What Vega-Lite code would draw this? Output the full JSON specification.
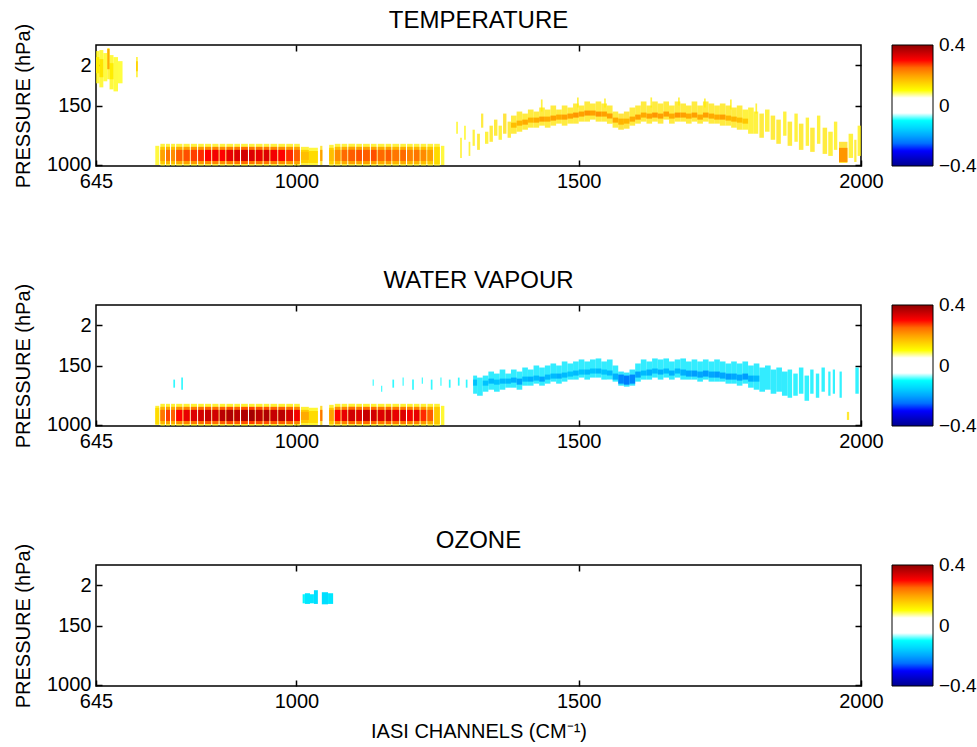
{
"$schema":"https://vega.github.io/schema/vega-lite/v6.json",
"padding":{"left":12,"top":8,"right":0,"bottom":0},
"background":"white",
"spacing":76,
"config":{
 "font":"Liberation Sans",
 "view":{"stroke":"black","strokeWidth":1.5},
 "axis":{"grid":false,"domain":false,"tickColor":"black","tickWidth":1.5,"labelFontSize":20,"labelColor":"black","titleFontSize":20,"titleFontWeight":"normal","titleColor":"black","labelFont":"Liberation Sans","titleFont":"Liberation Sans"},
 "title":{"fontSize":24,"fontWeight":"normal","color":"black","offset":-10,"anchor":"middle","font":"Liberation Sans"},
 "legend":{"labelFont":"Liberation Sans"}
},
"datasets":{
"T":[
{"c":645,"c2":651,"l":3,"l2":19,"v":0.11,"m":6,"m2":14,"mv":0.12},
{"c":651,"c2":658,"l":2.5,"l2":21,"v":0.11,"m":7,"m2":16,"mv":0.13},
{"c":658,"c2":665,"l":4,"l2":18,"v":0.105},
{"c":665,"c2":669,"l":1.5,"l2":17,"v":0.12,"k":2,"k2":12,"kv":0.19},
{"c":669,"c2":676,"l":5,"l2":22,"v":0.11,"m":9,"m2":17,"mv":0.12},
{"c":676,"c2":684,"l":6,"l2":23,"v":0.105},
{"c":684,"c2":692,"l":8,"l2":19,"v":0.102},
{"c":716,"c2":719,"l":6,"l2":16,"v":0.12,"k":8,"k2":13,"kv":0.15},
{"c":750,"c2":757,"l":50,"l2":59.5,"v":0.11},
{"c":759,"c2":767,"l":49,"l2":59.8,"v":0.12,"m":50.5,"m2":59,"mv":0.16,"k":52,"k2":57.5,"kv":0.2},
{"c":769,"c2":776,"l":49,"l2":59.8,"v":0.12,"m":50.5,"m2":59,"mv":0.18,"k":52,"k2":57.5,"kv":0.24},
{"c":778,"c2":785,"l":49,"l2":59.8,"v":0.12,"m":50.5,"m2":59,"mv":0.17,"k":52,"k2":57.5,"kv":0.22},
{"c":787,"c2":798,"l":49,"l2":59.8,"v":0.12,"m":50.5,"m2":59,"mv":0.19,"k":52,"k2":57.5,"kv":0.26},
{"c":800,"c2":811,"l":49,"l2":59.8,"v":0.12,"m":50.5,"m2":59,"mv":0.2,"k":52,"k2":57.5,"kv":0.27},
{"c":813,"c2":824,"l":49,"l2":59.8,"v":0.12,"m":50.5,"m2":59,"mv":0.21,"k":52,"k2":57.5,"kv":0.28},
{"c":826,"c2":836,"l":49,"l2":59.8,"v":0.12,"m":50.5,"m2":59,"mv":0.21,"k":52,"k2":57.5,"kv":0.29},
{"c":838,"c2":849,"l":49,"l2":59.8,"v":0.12,"m":50.5,"m2":59,"mv":0.22,"k":52,"k2":57.5,"kv":0.3},
{"c":851,"c2":862,"l":49,"l2":59.8,"v":0.12,"m":50.5,"m2":59,"mv":0.23,"k":52,"k2":57.5,"kv":0.31},
{"c":864,"c2":874,"l":49,"l2":59.8,"v":0.12,"m":50.5,"m2":59,"mv":0.22,"k":52,"k2":57.5,"kv":0.3},
{"c":876,"c2":888,"l":49,"l2":59.8,"v":0.12,"m":50.5,"m2":59,"mv":0.23,"k":52,"k2":57.5,"kv":0.32},
{"c":890,"c2":900,"l":49,"l2":59.8,"v":0.12,"m":50.5,"m2":59,"mv":0.24,"k":52,"k2":57.5,"kv":0.33},
{"c":902,"c2":914,"l":49,"l2":59.8,"v":0.12,"m":50.5,"m2":59,"mv":0.25,"k":52,"k2":57.5,"kv":0.34},
{"c":916,"c2":926,"l":49,"l2":59.8,"v":0.12,"m":50.5,"m2":59,"mv":0.24,"k":52,"k2":57.5,"kv":0.33},
{"c":928,"c2":940,"l":49,"l2":59.8,"v":0.12,"m":50.5,"m2":59,"mv":0.24,"k":52,"k2":57.5,"kv":0.32},
{"c":942,"c2":952,"l":49,"l2":59.8,"v":0.12,"m":50.5,"m2":59,"mv":0.24,"k":52,"k2":57.5,"kv":0.33},
{"c":954,"c2":966,"l":49,"l2":59.8,"v":0.12,"m":50.5,"m2":59,"mv":0.23,"k":52,"k2":57.5,"kv":0.31},
{"c":968,"c2":980,"l":49,"l2":59.8,"v":0.12,"m":50.5,"m2":59,"mv":0.22,"k":52,"k2":57.5,"kv":0.3},
{"c":982,"c2":994,"l":49,"l2":59.8,"v":0.12,"m":50.5,"m2":59,"mv":0.21,"k":52,"k2":57.5,"kv":0.29},
{"c":996,"c2":1006,"l":49,"l2":59.8,"v":0.12,"m":50.5,"m2":59,"mv":0.2,"k":52,"k2":57.5,"kv":0.26},
{"c":1008,"c2":1022,"l":50.5,"l2":59.5,"v":0.12,"m":52,"m2":58.5,"mv":0.15,"k":53,"k2":57,"kv":0.17},
{"c":1022,"c2":1038,"l":51,"l2":59.5,"v":0.11,"m":52.5,"m2":58.5,"mv":0.14},
{"c":1042,"c2":1046,"l":50,"l2":59.5,"v":0.14,"k":52,"k2":57.5,"kv":0.2},
{"c":1058,"c2":1066,"l":49.5,"l2":59.8,"v":0.12,"m":51,"m2":59,"mv":0.15,"k":52,"k2":57.5,"kv":0.17},
{"c":1068,"c2":1078,"l":49,"l2":59.8,"v":0.12,"m":50.5,"m2":59,"mv":0.17,"k":52,"k2":57.5,"kv":0.22},
{"c":1080,"c2":1090,"l":49,"l2":59.8,"v":0.12,"m":50.5,"m2":59,"mv":0.19,"k":52,"k2":57.5,"kv":0.25},
{"c":1092,"c2":1104,"l":49,"l2":59.8,"v":0.12,"m":50.5,"m2":59,"mv":0.2,"k":52,"k2":57.5,"kv":0.26},
{"c":1106,"c2":1116,"l":49,"l2":59.8,"v":0.12,"m":50.5,"m2":59,"mv":0.2,"k":52,"k2":57.5,"kv":0.27},
{"c":1118,"c2":1130,"l":49,"l2":59.8,"v":0.12,"m":50.5,"m2":59,"mv":0.2,"k":52,"k2":57.5,"kv":0.26},
{"c":1132,"c2":1142,"l":49,"l2":59.8,"v":0.12,"m":50.5,"m2":59,"mv":0.2,"k":52,"k2":57.5,"kv":0.27},
{"c":1144,"c2":1156,"l":49,"l2":59.8,"v":0.12,"m":50.5,"m2":59,"mv":0.19,"k":52,"k2":57.5,"kv":0.25},
{"c":1158,"c2":1168,"l":49,"l2":59.8,"v":0.12,"m":50.5,"m2":59,"mv":0.2,"k":52,"k2":57.5,"kv":0.26},
{"c":1170,"c2":1182,"l":49,"l2":59.8,"v":0.12,"m":50.5,"m2":59,"mv":0.18,"k":52,"k2":57.5,"kv":0.24},
{"c":1184,"c2":1194,"l":49,"l2":59.8,"v":0.12,"m":50.5,"m2":59,"mv":0.19,"k":52,"k2":57.5,"kv":0.25},
{"c":1196,"c2":1206,"l":49,"l2":59.8,"v":0.12,"m":50.5,"m2":59,"mv":0.18,"k":52,"k2":57.5,"kv":0.23},
{"c":1208,"c2":1218,"l":49,"l2":59.8,"v":0.12,"m":50.5,"m2":59,"mv":0.18,"k":52,"k2":57.5,"kv":0.24},
{"c":1220,"c2":1230,"l":49,"l2":59.8,"v":0.12,"m":50.5,"m2":59,"mv":0.17,"k":52,"k2":57.5,"kv":0.22},
{"c":1232,"c2":1242,"l":49,"l2":59.8,"v":0.12,"m":50.5,"m2":59,"mv":0.16,"k":52,"k2":57.5,"kv":0.2},
{"c":1244,"c2":1254,"l":49,"l2":59.8,"v":0.12,"m":50.5,"m2":59,"mv":0.14},
{"c":1256,"c2":1262,"l":50,"l2":59.5,"v":0.11},
{"c":1283,"c2":1286,"l":38,"l2":44,"v":0.11},
{"c":1290,"c2":1293,"l":46,"l2":56,"v":0.12},
{"c":1297,"c2":1300,"l":40,"l2":47,"v":0.11},
{"c":1305,"c2":1308,"l":48,"l2":55,"v":0.12},
{"c":1312,"c2":1316,"l":42,"l2":50,"v":0.12},
{"c":1320,"c2":1325,"l":44,"l2":52,"v":0.13},
{"c":1327,"c2":1331,"l":34,"l2":41,"v":0.13},
{"c":1334,"c2":1340,"l":43,"l2":49,"v":0.12},
{"c":1342,"c2":1348,"l":40,"l2":48,"v":0.13},
{"c":1350,"c2":1356,"l":37,"l2":45,"v":0.13},
{"c":1358,"c2":1364,"l":40,"l2":47,"v":0.12},
{"c":1366,"c2":1372,"l":34,"l2":44,"v":0.14},
{"c":1374,"c2":1380,"l":38,"l2":46,"v":0.13},
{"c":1380,"c2":1390,"l":35,"l2":44,"v":0.13,"k":38.5,"k2":41,"kv":0.17},
{"c":1390,"c2":1400,"l":33,"l2":43,"v":0.13,"k":37.5,"k2":40,"kv":0.18},
{"c":1400,"c2":1410,"l":34,"l2":42,"v":0.13,"k":37,"k2":39.5,"kv":0.19},
{"c":1410,"c2":1420,"l":32,"l2":41,"v":0.13,"k":36,"k2":38.5,"kv":0.18},
{"c":1420,"c2":1430,"l":33,"l2":41,"v":0.13,"k":36,"k2":38.5,"kv":0.19},
{"c":1430,"c2":1440,"l":31,"l2":40,"v":0.13,"k":35.5,"k2":38,"kv":0.2},
{"c":1440,"c2":1450,"l":32,"l2":41,"v":0.13,"k":35.5,"k2":38,"kv":0.19},
{"c":1450,"c2":1460,"l":30,"l2":40,"v":0.13,"k":35,"k2":37.5,"kv":0.2},
{"c":1460,"c2":1470,"l":32,"l2":39,"v":0.13,"k":34.5,"k2":37,"kv":0.19},
{"c":1470,"c2":1480,"l":30,"l2":40,"v":0.13,"k":34.5,"k2":37,"kv":0.2},
{"c":1480,"c2":1490,"l":31,"l2":39,"v":0.13,"k":34,"k2":36.5,"kv":0.2},
{"c":1490,"c2":1500,"l":29,"l2":39,"v":0.13,"k":33.5,"k2":36,"kv":0.21},
{"c":1500,"c2":1510,"l":30,"l2":38,"v":0.13,"k":33,"k2":35.5,"kv":0.2},
{"c":1510,"c2":1520,"l":28,"l2":38,"v":0.13,"k":32.5,"k2":35,"kv":0.21},
{"c":1520,"c2":1530,"l":29,"l2":37,"v":0.13,"k":32.5,"k2":35,"kv":0.2},
{"c":1530,"c2":1540,"l":28,"l2":38,"v":0.13,"k":33,"k2":35.5,"kv":0.21},
{"c":1540,"c2":1550,"l":29,"l2":38,"v":0.13,"k":33,"k2":35.5,"kv":0.2},
{"c":1550,"c2":1560,"l":30,"l2":39,"v":0.13,"k":34,"k2":36.5,"kv":0.2},
{"c":1560,"c2":1570,"l":33,"l2":41,"v":0.13,"k":36,"k2":38.5,"kv":0.19},
{"c":1570,"c2":1580,"l":34,"l2":42,"v":0.14,"k":36.5,"k2":39.5,"kv":0.18},
{"c":1580,"c2":1590,"l":33,"l2":41.5,"v":0.14,"k":36.5,"k2":39,"kv":0.18},
{"c":1590,"c2":1600,"l":31,"l2":40,"v":0.13,"k":35.5,"k2":38,"kv":0.19},
{"c":1600,"c2":1610,"l":30,"l2":39,"v":0.13,"k":34.5,"k2":37,"kv":0.2},
{"c":1610,"c2":1620,"l":28,"l2":38,"v":0.13,"k":33.5,"k2":36,"kv":0.19},
{"c":1620,"c2":1630,"l":30,"l2":39,"v":0.13,"k":34,"k2":36.5,"kv":0.2},
{"c":1630,"c2":1640,"l":28,"l2":38,"v":0.13,"k":33.5,"k2":36,"kv":0.21},
{"c":1640,"c2":1650,"l":29,"l2":39,"v":0.13,"k":34,"k2":36.5,"kv":0.2},
{"c":1650,"c2":1660,"l":28,"l2":37,"v":0.13,"k":33,"k2":35.5,"kv":0.2},
{"c":1660,"c2":1670,"l":30,"l2":39,"v":0.13,"k":34,"k2":36.5,"kv":0.19},
{"c":1670,"c2":1680,"l":28,"l2":38,"v":0.13,"k":33.5,"k2":36,"kv":0.21},
{"c":1680,"c2":1690,"l":29,"l2":38,"v":0.13,"k":33.5,"k2":36,"kv":0.2},
{"c":1690,"c2":1700,"l":30,"l2":39,"v":0.13,"k":34,"k2":36.5,"kv":0.19},
{"c":1700,"c2":1710,"l":28,"l2":38,"v":0.13,"k":33.5,"k2":36,"kv":0.2},
{"c":1710,"c2":1720,"l":30,"l2":39,"v":0.13,"k":34.5,"k2":37,"kv":0.19},
{"c":1720,"c2":1730,"l":28,"l2":38,"v":0.13,"k":33.5,"k2":36,"kv":0.2},
{"c":1730,"c2":1740,"l":29,"l2":39,"v":0.13,"k":34,"k2":36.5,"kv":0.19},
{"c":1740,"c2":1750,"l":30,"l2":39,"v":0.13,"k":34.5,"k2":37,"kv":0.19},
{"c":1750,"c2":1760,"l":29,"l2":40,"v":0.13,"k":34.5,"k2":37,"kv":0.2},
{"c":1760,"c2":1770,"l":30,"l2":40,"v":0.13,"k":35,"k2":37.5,"kv":0.18},
{"c":1770,"c2":1780,"l":31,"l2":41,"v":0.13,"k":35.5,"k2":38,"kv":0.18},
{"c":1780,"c2":1790,"l":30,"l2":42,"v":0.13,"k":36,"k2":38.5,"kv":0.17},
{"c":1790,"c2":1800,"l":32,"l2":42,"v":0.12,"k":36.5,"k2":39,"kv":0.16},
{"c":1800,"c2":1810,"l":31,"l2":44,"v":0.12},
{"c":1810,"c2":1818,"l":33,"l2":44,"v":0.12},
{"c":1820,"c2":1828,"l":34,"l2":46,"v":0.13},
{"c":1830,"c2":1838,"l":32,"l2":43,"v":0.12},
{"c":1840,"c2":1848,"l":35,"l2":47,"v":0.13},
{"c":1850,"c2":1858,"l":37,"l2":49,"v":0.13},
{"c":1862,"c2":1868,"l":33,"l2":45,"v":0.12},
{"c":1870,"c2":1878,"l":38,"l2":50,"v":0.13},
{"c":1882,"c2":1888,"l":34,"l2":48,"v":0.12},
{"c":1890,"c2":1898,"l":39,"l2":52,"v":0.13},
{"c":1902,"c2":1908,"l":36,"l2":50,"v":0.12},
{"c":1910,"c2":1918,"l":41,"l2":53,"v":0.13},
{"c":1922,"c2":1928,"l":35,"l2":49,"v":0.12},
{"c":1932,"c2":1940,"l":41,"l2":54,"v":0.13},
{"c":1942,"c2":1950,"l":43,"l2":55,"v":0.12},
{"c":1952,"c2":1958,"l":38,"l2":52,"v":0.12},
{"c":1961,"c2":1976,"l":48,"l2":58.5,"v":0.14,"k":51,"k2":58,"kv":0.21},
{"c":1978,"c2":1986,"l":44,"l2":56,"v":0.12},
{"c":1988,"c2":1992,"l":47,"l2":58,"v":0.13},
{"c":1994,"c2":2000,"l":40,"l2":55,"v":0.12},
{"c":1433,"c2":1436,"l":27,"l2":33,"v":0.12},
{"c":1497,"c2":1500,"l":26,"l2":31,"v":0.12},
{"c":1545,"c2":1548,"l":26.5,"l2":31,"v":0.12},
{"c":1627,"c2":1630,"l":26,"l2":31,"v":0.12},
{"c":1676,"c2":1679,"l":26,"l2":30,"v":0.12},
{"c":1722,"c2":1725,"l":26.5,"l2":31,"v":0.12},
{"c":1768,"c2":1771,"l":27,"l2":32,"v":0.12},
{"c":1813,"c2":1816,"l":29,"l2":34,"v":0.12}
],
"W":[
{"c":750,"c2":757,"l":50,"l2":59.5,"v":0.12,"m":51,"m2":59,"mv":0.14},
{"c":759,"c2":767,"l":49,"l2":59.8,"v":0.12,"m":50.5,"m2":59,"mv":0.18,"k":52,"k2":57.5,"kv":0.24},
{"c":769,"c2":776,"l":49,"l2":59.8,"v":0.12,"m":50.5,"m2":59,"mv":0.2,"k":52,"k2":57.5,"kv":0.28},
{"c":778,"c2":785,"l":49,"l2":59.8,"v":0.12,"m":50.5,"m2":59,"mv":0.19,"k":52,"k2":57.5,"kv":0.26},
{"c":787,"c2":798,"l":49,"l2":59.8,"v":0.12,"m":50.5,"m2":59,"mv":0.22,"k":52,"k2":57.5,"kv":0.3},
{"c":800,"c2":811,"l":49,"l2":59.8,"v":0.12,"m":50.5,"m2":59,"mv":0.23,"k":52,"k2":57.5,"kv":0.32},
{"c":813,"c2":824,"l":49,"l2":59.8,"v":0.12,"m":50.5,"m2":59,"mv":0.24,"k":52,"k2":57.5,"kv":0.33},
{"c":826,"c2":836,"l":49,"l2":59.8,"v":0.12,"m":50.5,"m2":59,"mv":0.25,"k":52,"k2":57.5,"kv":0.34},
{"c":838,"c2":849,"l":49,"l2":59.8,"v":0.12,"m":50.5,"m2":59,"mv":0.26,"k":52,"k2":57.5,"kv":0.35},
{"c":851,"c2":862,"l":49,"l2":59.8,"v":0.12,"m":50.5,"m2":59,"mv":0.25,"k":52,"k2":57.5,"kv":0.34},
{"c":864,"c2":874,"l":49,"l2":59.8,"v":0.12,"m":50.5,"m2":59,"mv":0.26,"k":52,"k2":57.5,"kv":0.36},
{"c":876,"c2":888,"l":49,"l2":59.8,"v":0.12,"m":50.5,"m2":59,"mv":0.27,"k":52,"k2":57.5,"kv":0.37},
{"c":890,"c2":900,"l":49,"l2":59.8,"v":0.12,"m":50.5,"m2":59,"mv":0.26,"k":52,"k2":57.5,"kv":0.36},
{"c":902,"c2":914,"l":49,"l2":59.8,"v":0.12,"m":50.5,"m2":59,"mv":0.27,"k":52,"k2":57.5,"kv":0.37},
{"c":916,"c2":926,"l":49,"l2":59.8,"v":0.12,"m":50.5,"m2":59,"mv":0.28,"k":52,"k2":57.5,"kv":0.38},
{"c":928,"c2":940,"l":49,"l2":59.8,"v":0.12,"m":50.5,"m2":59,"mv":0.27,"k":52,"k2":57.5,"kv":0.36},
{"c":942,"c2":952,"l":49,"l2":59.8,"v":0.12,"m":50.5,"m2":59,"mv":0.27,"k":52,"k2":57.5,"kv":0.37},
{"c":954,"c2":966,"l":49,"l2":59.8,"v":0.12,"m":50.5,"m2":59,"mv":0.26,"k":52,"k2":57.5,"kv":0.35},
{"c":968,"c2":980,"l":49,"l2":59.8,"v":0.12,"m":50.5,"m2":59,"mv":0.26,"k":52,"k2":57.5,"kv":0.36},
{"c":982,"c2":994,"l":49,"l2":59.8,"v":0.12,"m":50.5,"m2":59,"mv":0.25,"k":52,"k2":57.5,"kv":0.34},
{"c":996,"c2":1006,"l":49,"l2":59.8,"v":0.12,"m":50.5,"m2":59,"mv":0.23,"k":52,"k2":57.5,"kv":0.31},
{"c":1008,"c2":1022,"l":50.5,"l2":59.5,"v":0.12,"m":52,"m2":58.5,"mv":0.16,"k":53,"k2":57,"kv":0.19},
{"c":1022,"c2":1038,"l":51,"l2":59.5,"v":0.11,"m":52.5,"m2":58.5,"mv":0.14},
{"c":1042,"c2":1046,"l":50,"l2":59.5,"v":0.15,"k":52,"k2":57.5,"kv":0.24},
{"c":1058,"c2":1066,"l":49.5,"l2":59.8,"v":0.12,"m":51,"m2":59,"mv":0.16,"k":52,"k2":57.5,"kv":0.2},
{"c":1068,"c2":1078,"l":49,"l2":59.8,"v":0.12,"m":50.5,"m2":59,"mv":0.22,"k":52,"k2":57.5,"kv":0.3},
{"c":1080,"c2":1090,"l":49,"l2":59.8,"v":0.12,"m":50.5,"m2":59,"mv":0.23,"k":52,"k2":57.5,"kv":0.32},
{"c":1092,"c2":1104,"l":49,"l2":59.8,"v":0.12,"m":50.5,"m2":59,"mv":0.25,"k":52,"k2":57.5,"kv":0.34},
{"c":1106,"c2":1116,"l":49,"l2":59.8,"v":0.12,"m":50.5,"m2":59,"mv":0.24,"k":52,"k2":57.5,"kv":0.33},
{"c":1118,"c2":1130,"l":49,"l2":59.8,"v":0.12,"m":50.5,"m2":59,"mv":0.25,"k":52,"k2":57.5,"kv":0.35},
{"c":1132,"c2":1142,"l":49,"l2":59.8,"v":0.12,"m":50.5,"m2":59,"mv":0.25,"k":52,"k2":57.5,"kv":0.34},
{"c":1144,"c2":1156,"l":49,"l2":59.8,"v":0.12,"m":50.5,"m2":59,"mv":0.24,"k":52,"k2":57.5,"kv":0.33},
{"c":1158,"c2":1168,"l":49,"l2":59.8,"v":0.12,"m":50.5,"m2":59,"mv":0.25,"k":52,"k2":57.5,"kv":0.34},
{"c":1170,"c2":1182,"l":49,"l2":59.8,"v":0.12,"m":50.5,"m2":59,"mv":0.24,"k":52,"k2":57.5,"kv":0.32},
{"c":1184,"c2":1194,"l":49,"l2":59.8,"v":0.12,"m":50.5,"m2":59,"mv":0.24,"k":52,"k2":57.5,"kv":0.33},
{"c":1196,"c2":1206,"l":49,"l2":59.8,"v":0.12,"m":50.5,"m2":59,"mv":0.23,"k":52,"k2":57.5,"kv":0.31},
{"c":1208,"c2":1218,"l":49,"l2":59.8,"v":0.12,"m":50.5,"m2":59,"mv":0.23,"k":52,"k2":57.5,"kv":0.32},
{"c":1220,"c2":1230,"l":49,"l2":59.8,"v":0.12,"m":50.5,"m2":59,"mv":0.21,"k":52,"k2":57.5,"kv":0.29},
{"c":1232,"c2":1242,"l":49,"l2":59.8,"v":0.12,"m":50.5,"m2":59,"mv":0.19,"k":52,"k2":57.5,"kv":0.26},
{"c":1244,"c2":1254,"l":49,"l2":59.8,"v":0.12,"m":50.5,"m2":59,"mv":0.16},
{"c":1256,"c2":1262,"l":50,"l2":59.5,"v":0.11},
{"c":782,"c2":785,"l":37,"l2":41,"v":-0.11},
{"c":796,"c2":799,"l":36,"l2":42,"v":-0.11},
{"c":1135,"c2":1137,"l":37,"l2":40,"v":-0.105},
{"c":1150,"c2":1152,"l":40,"l2":43,"v":-0.105},
{"c":1170,"c2":1173,"l":37,"l2":41,"v":-0.11},
{"c":1188,"c2":1190,"l":36,"l2":40,"v":-0.105},
{"c":1205,"c2":1208,"l":37,"l2":42,"v":-0.11},
{"c":1222,"c2":1224,"l":36,"l2":39,"v":-0.105},
{"c":1238,"c2":1241,"l":37,"l2":42,"v":-0.11},
{"c":1255,"c2":1257,"l":36,"l2":40,"v":-0.105},
{"c":1270,"c2":1273,"l":37,"l2":41,"v":-0.11},
{"c":1286,"c2":1289,"l":36,"l2":40,"v":-0.11},
{"c":1300,"c2":1303,"l":37,"l2":41,"v":-0.11},
{"c":1313,"c2":1320,"l":35,"l2":44,"v":-0.13,"k":37,"k2":40,"kv":-0.17},
{"c":1320,"c2":1330,"l":36,"l2":45,"v":-0.13},
{"c":1330,"c2":1340,"l":35,"l2":43,"v":-0.13,"k":37.5,"k2":40,"kv":-0.17},
{"c":1340,"c2":1350,"l":33,"l2":42,"v":-0.13,"k":36.5,"k2":39,"kv":-0.18},
{"c":1350,"c2":1360,"l":34,"l2":43,"v":-0.13,"k":37,"k2":39.5,"kv":-0.17},
{"c":1360,"c2":1370,"l":32,"l2":42,"v":-0.13,"k":36.5,"k2":39,"kv":-0.18},
{"c":1370,"c2":1380,"l":34,"l2":41,"v":-0.13,"k":36.5,"k2":39,"kv":-0.18},
{"c":1380,"c2":1390,"l":32,"l2":41,"v":-0.13,"k":36,"k2":38.5,"kv":-0.19},
{"c":1390,"c2":1400,"l":33,"l2":42,"v":-0.13,"k":36.5,"k2":39.5,"kv":-0.2},
{"c":1400,"c2":1410,"l":31,"l2":40,"v":-0.13,"k":35.5,"k2":38,"kv":-0.18},
{"c":1410,"c2":1420,"l":32,"l2":40,"v":-0.13,"k":35.5,"k2":38,"kv":-0.19},
{"c":1420,"c2":1430,"l":30,"l2":39,"v":-0.13,"k":35,"k2":37.5,"kv":-0.18},
{"c":1430,"c2":1440,"l":31,"l2":40,"v":-0.13,"k":35.5,"k2":38,"kv":-0.2},
{"c":1440,"c2":1450,"l":30,"l2":39,"v":-0.13,"k":34.5,"k2":37,"kv":-0.18},
{"c":1450,"c2":1460,"l":29,"l2":38,"v":-0.13,"k":34,"k2":36.5,"kv":-0.18},
{"c":1460,"c2":1470,"l":30,"l2":39,"v":-0.13,"k":34,"k2":36.5,"kv":-0.19},
{"c":1470,"c2":1480,"l":28,"l2":38,"v":-0.13,"k":33.5,"k2":36,"kv":-0.18},
{"c":1480,"c2":1490,"l":29,"l2":37,"v":-0.13,"k":33,"k2":35.5,"kv":-0.17},
{"c":1490,"c2":1500,"l":28,"l2":37,"v":-0.13,"k":32.5,"k2":35,"kv":-0.18},
{"c":1500,"c2":1510,"l":27,"l2":36,"v":-0.13,"k":32,"k2":34.5,"kv":-0.17},
{"c":1510,"c2":1520,"l":28,"l2":37,"v":-0.13,"k":32,"k2":34.5,"kv":-0.18},
{"c":1520,"c2":1530,"l":27,"l2":36,"v":-0.13,"k":31.5,"k2":34,"kv":-0.17},
{"c":1530,"c2":1540,"l":26.5,"l2":36,"v":-0.13,"k":31.5,"k2":34,"kv":-0.18},
{"c":1540,"c2":1550,"l":28,"l2":37,"v":-0.13,"k":32,"k2":34.5,"kv":-0.17},
{"c":1550,"c2":1560,"l":27,"l2":37,"v":-0.13,"k":32.5,"k2":35,"kv":-0.18},
{"c":1560,"c2":1570,"l":30,"l2":38,"v":-0.13,"k":34,"k2":37,"kv":-0.19},
{"c":1570,"c2":1580,"l":33,"l2":40,"v":-0.14,"k":34.5,"k2":39,"kv":-0.23},
{"c":1580,"c2":1590,"l":33.5,"l2":40.5,"v":-0.14,"k":35,"k2":39.5,"kv":-0.24},
{"c":1590,"c2":1600,"l":32,"l2":40,"v":-0.14,"k":34.5,"k2":39,"kv":-0.23},
{"c":1600,"c2":1610,"l":29,"l2":38,"v":-0.13,"k":33,"k2":36,"kv":-0.2},
{"c":1610,"c2":1620,"l":27,"l2":37,"v":-0.13,"k":32.5,"k2":35,"kv":-0.18},
{"c":1620,"c2":1630,"l":28,"l2":37,"v":-0.13,"k":32,"k2":35,"kv":-0.19},
{"c":1630,"c2":1640,"l":26.5,"l2":36,"v":-0.13,"k":31.5,"k2":34,"kv":-0.18},
{"c":1640,"c2":1650,"l":27,"l2":37,"v":-0.13,"k":32,"k2":34.5,"kv":-0.19},
{"c":1650,"c2":1660,"l":26.5,"l2":36,"v":-0.13,"k":31.5,"k2":34,"kv":-0.18},
{"c":1660,"c2":1670,"l":28,"l2":37,"v":-0.13,"k":32.5,"k2":35,"kv":-0.19},
{"c":1670,"c2":1680,"l":27,"l2":36,"v":-0.13,"k":31.5,"k2":34,"kv":-0.18},
{"c":1680,"c2":1690,"l":26.5,"l2":37,"v":-0.13,"k":32,"k2":35,"kv":-0.19},
{"c":1690,"c2":1700,"l":28,"l2":37,"v":-0.13,"k":32.5,"k2":35.5,"kv":-0.2},
{"c":1700,"c2":1710,"l":27,"l2":37,"v":-0.13,"k":32.5,"k2":35.5,"kv":-0.21},
{"c":1710,"c2":1720,"l":28,"l2":38,"v":-0.13,"k":33,"k2":36,"kv":-0.2},
{"c":1720,"c2":1730,"l":27,"l2":37,"v":-0.13,"k":32.5,"k2":35.5,"kv":-0.21},
{"c":1730,"c2":1740,"l":28,"l2":38,"v":-0.13,"k":33,"k2":36,"kv":-0.2},
{"c":1740,"c2":1750,"l":27,"l2":38,"v":-0.13,"k":33,"k2":36,"kv":-0.21},
{"c":1750,"c2":1760,"l":28,"l2":38,"v":-0.13,"k":33.5,"k2":36.5,"kv":-0.2},
{"c":1760,"c2":1770,"l":29,"l2":39,"v":-0.13,"k":34,"k2":37,"kv":-0.21},
{"c":1770,"c2":1780,"l":28,"l2":39,"v":-0.13,"k":34,"k2":37,"kv":-0.2},
{"c":1780,"c2":1790,"l":29,"l2":40,"v":-0.13,"k":34.5,"k2":37.5,"kv":-0.2},
{"c":1790,"c2":1800,"l":28,"l2":39,"v":-0.13,"k":34,"k2":37,"kv":-0.21},
{"c":1800,"c2":1810,"l":30,"l2":41,"v":-0.13,"k":35,"k2":38,"kv":-0.19},
{"c":1810,"c2":1820,"l":29,"l2":42,"v":-0.13,"k":35,"k2":38,"kv":-0.18},
{"c":1820,"c2":1830,"l":31,"l2":43,"v":-0.13},
{"c":1830,"c2":1840,"l":30,"l2":42,"v":-0.13},
{"c":1840,"c2":1850,"l":32,"l2":44,"v":-0.13},
{"c":1850,"c2":1860,"l":31,"l2":43,"v":-0.13},
{"c":1860,"c2":1870,"l":33,"l2":45,"v":-0.13},
{"c":1870,"c2":1878,"l":32,"l2":46,"v":-0.12},
{"c":1880,"c2":1888,"l":34,"l2":45,"v":-0.12},
{"c":1890,"c2":1898,"l":31,"l2":44,"v":-0.12},
{"c":1900,"c2":1908,"l":35,"l2":47.5,"v":-0.12},
{"c":1910,"c2":1916,"l":32,"l2":44,"v":-0.12},
{"c":1920,"c2":1926,"l":34,"l2":46,"v":-0.12},
{"c":1930,"c2":1936,"l":31,"l2":43,"v":-0.12},
{"c":1942,"c2":1946,"l":33,"l2":45,"v":-0.12},
{"c":1950,"c2":1954,"l":32,"l2":44,"v":-0.12},
{"c":1962,"c2":1966,"l":33,"l2":46,"v":-0.12},
{"c":1990,"c2":1996,"l":31,"l2":44,"v":-0.12},
{"c":1975,"c2":1979,"l":53,"l2":57,"v":0.13}
],
"O":[
{"c":1011,"c2":1015,"l":14.5,"l2":19,"v":-0.11},
{"c":1015,"c2":1024,"l":14,"l2":19.3,"v":-0.13},
{"c":1024,"c2":1031,"l":14.5,"l2":19,"v":-0.13},
{"c":1031,"c2":1038,"l":12.5,"l2":19.3,"v":-0.14},
{"c":1045,"c2":1056,"l":13.5,"l2":19.5,"v":-0.14},
{"c":1056,"c2":1065,"l":14,"l2":19.3,"v":-0.13}
]
},
"vconcat":[
{
 "width":765,"height":121,
 "title":"TEMPERATURE",
 "data":{"name":"T"},
 "layer":[
  {"mark":{"type":"rect","fillOpacity":0.75},
   "encoding":{
    "x":{"field":"c","type":"quantitative","scale":{"domain":[645,2000],"nice":false,"zero":false},"axis":{"values":[645,1000,1500,2000],"format":"d","title":null,"labelFlush":false,"labelPadding":11,"tickSize":-6,"labelOverlap":false}},
    "x2":{"field":"c2"},
    "y":{"field":"l","type":"quantitative","scale":{"domain":[0,60],"reverse":true,"nice":false,"zero":false},"axis":{"values":[10,30,59.5],"labelExpr":"datum.value < 20 ? '2' : (datum.value < 40 ? '150' : '1000')","title":"PRESSURE (hPa)","labelFlush":false,"labelPadding":11,"tickSize":-6,"titlePadding":13,"labelOverlap":false}},
    "y2":{"field":"l2"},
    "color":{"field":"v","type":"quantitative","scale":{"type":"linear","domain":[-0.4,-0.3,-0.1,-0.0999,0.0999,0.1,0.3,0.4],"range":["#00008f","#0000ff","#00ffff","#ffffff","#ffffff","#ffff00","#ff0000","#8f0000"],"clamp":true},"legend":{"title":null,"values":[-0.4,0,0.4],"labelExpr":"datum.value > 0.01 ? '0.4' : (datum.value < -0.01 ? '−0.4' : '0')","direction":"vertical","orient":"right","offset":30,"gradientLength":121,"gradientThickness":41,"gradientStrokeColor":"black","gradientStrokeWidth":1,"gradientOpacity":1,"labelFontSize":19,"labelOffset":6,"labelColor":"black","labelBaseline":"middle","labelOverlap":false,"padding":0,"encode":{"labels":{"update":{"baseline":{"value":"middle"}}}}}}
   }},
  {"transform":[{"filter":"isValid(datum.m)"}],"mark":{"type":"rect"},
   "encoding":{"x":{"field":"c","type":"quantitative","axis":null},"x2":{"field":"c2"},"y":{"field":"m","type":"quantitative","axis":null},"y2":{"field":"m2"},"color":{"field":"mv","type":"quantitative"}}},
  {"transform":[{"filter":"isValid(datum.k)"}],"mark":{"type":"rect"},
   "encoding":{"x":{"field":"c","type":"quantitative","axis":null},"x2":{"field":"c2"},"y":{"field":"k","type":"quantitative","axis":null},"y2":{"field":"k2"},"color":{"field":"kv","type":"quantitative"}}},
  {"mark":{"type":"point","opacity":0},
   "encoding":{"x":{"field":"c","type":"quantitative","axis":{"orient":"top","values":[1000,1500],"labels":false,"title":null,"tickSize":-6}},"y":{"field":"l","type":"quantitative","axis":{"orient":"right","values":[10,30,59.5],"labels":false,"title":null,"tickSize":-6}}}}
 ],
 "resolve":{"axis":{"x":"independent","y":"independent"}}
},
{
 "width":765,"height":121,
 "title":"WATER VAPOUR",
 "data":{"name":"W"},
 "layer":[
  {"mark":{"type":"rect","fillOpacity":0.8},
   "encoding":{
    "x":{"field":"c","type":"quantitative","scale":{"domain":[645,2000],"nice":false,"zero":false},"axis":{"values":[645,1000,1500,2000],"format":"d","title":null,"labelFlush":false,"labelPadding":11,"tickSize":-6,"labelOverlap":false}},
    "x2":{"field":"c2"},
    "y":{"field":"l","type":"quantitative","scale":{"domain":[0,60],"reverse":true,"nice":false,"zero":false},"axis":{"values":[10,30,59.5],"labelExpr":"datum.value < 20 ? '2' : (datum.value < 40 ? '150' : '1000')","title":"PRESSURE (hPa)","labelFlush":false,"labelPadding":11,"tickSize":-6,"titlePadding":13,"labelOverlap":false}},
    "y2":{"field":"l2"},
    "color":{"field":"v","type":"quantitative","scale":{"type":"linear","domain":[-0.4,-0.3,-0.1,-0.0999,0.0999,0.1,0.3,0.4],"range":["#00008f","#0000ff","#00ffff","#ffffff","#ffffff","#ffff00","#ff0000","#8f0000"],"clamp":true},"legend":{"title":null,"values":[-0.4,0,0.4],"labelExpr":"datum.value > 0.01 ? '0.4' : (datum.value < -0.01 ? '−0.4' : '0')","direction":"vertical","orient":"right","offset":30,"gradientLength":121,"gradientThickness":41,"gradientStrokeColor":"black","gradientStrokeWidth":1,"gradientOpacity":1,"labelFontSize":19,"labelOffset":6,"labelColor":"black","labelBaseline":"middle","labelOverlap":false,"padding":0,"encode":{"labels":{"update":{"baseline":{"value":"middle"}}}}}}
   }},
  {"transform":[{"filter":"isValid(datum.m)"}],"mark":{"type":"rect"},
   "encoding":{"x":{"field":"c","type":"quantitative","axis":null},"x2":{"field":"c2"},"y":{"field":"m","type":"quantitative","axis":null},"y2":{"field":"m2"},"color":{"field":"mv","type":"quantitative"}}},
  {"transform":[{"filter":"isValid(datum.k)"}],"mark":{"type":"rect"},
   "encoding":{"x":{"field":"c","type":"quantitative","axis":null},"x2":{"field":"c2"},"y":{"field":"k","type":"quantitative","axis":null},"y2":{"field":"k2"},"color":{"field":"kv","type":"quantitative"}}},
  {"mark":{"type":"point","opacity":0},
   "encoding":{"x":{"field":"c","type":"quantitative","axis":{"orient":"top","values":[1000,1500],"labels":false,"title":null,"tickSize":-6}},"y":{"field":"l","type":"quantitative","axis":{"orient":"right","values":[10,30,59.5],"labels":false,"title":null,"tickSize":-6}}}}
 ],
 "resolve":{"axis":{"x":"independent","y":"independent"}}
},
{
 "width":765,"height":121,
 "title":"OZONE",
 "data":{"name":"O"},
 "layer":[
  {"mark":{"type":"rect"},
   "encoding":{
    "x":{"field":"c","type":"quantitative","scale":{"domain":[645,2000],"nice":false,"zero":false},"axis":{"values":[645,1000,1500,2000],"format":"d","title":"IASI CHANNELS (CM⁻¹)","titlePadding":10,"labelFlush":false,"labelPadding":11,"tickSize":-6,"labelOverlap":false}},
    "x2":{"field":"c2"},
    "y":{"field":"l","type":"quantitative","scale":{"domain":[0,60],"reverse":true,"nice":false,"zero":false},"axis":{"values":[10,30,59.5],"labelExpr":"datum.value < 20 ? '2' : (datum.value < 40 ? '150' : '1000')","title":"PRESSURE (hPa)","labelFlush":false,"labelPadding":11,"tickSize":-6,"titlePadding":13,"labelOverlap":false}},
    "y2":{"field":"l2"},
    "color":{"field":"v","type":"quantitative","scale":{"type":"linear","domain":[-0.4,-0.3,-0.1,-0.0999,0.0999,0.1,0.3,0.4],"range":["#00008f","#0000ff","#00ffff","#ffffff","#ffffff","#ffff00","#ff0000","#8f0000"],"clamp":true},"legend":{"title":null,"values":[-0.4,0,0.4],"labelExpr":"datum.value > 0.01 ? '0.4' : (datum.value < -0.01 ? '−0.4' : '0')","direction":"vertical","orient":"right","offset":30,"gradientLength":121,"gradientThickness":41,"gradientStrokeColor":"black","gradientStrokeWidth":1,"gradientOpacity":1,"labelFontSize":19,"labelOffset":6,"labelColor":"black","labelBaseline":"middle","labelOverlap":false,"padding":0,"encode":{"labels":{"update":{"baseline":{"value":"middle"}}}}}}
   }},
  {"mark":{"type":"point","opacity":0},
   "encoding":{"x":{"field":"c","type":"quantitative","axis":{"orient":"top","values":[1000,1500],"labels":false,"title":null,"tickSize":-6}},"y":{"field":"l","type":"quantitative","axis":{"orient":"right","values":[10,30,59.5],"labels":false,"title":null,"tickSize":-6}}}}
 ],
 "resolve":{"axis":{"x":"independent","y":"independent"}}
}
],
"resolve":{"scale":{"x":"independent","y":"independent","color":"independent"},"legend":{"color":"independent"}}
}
